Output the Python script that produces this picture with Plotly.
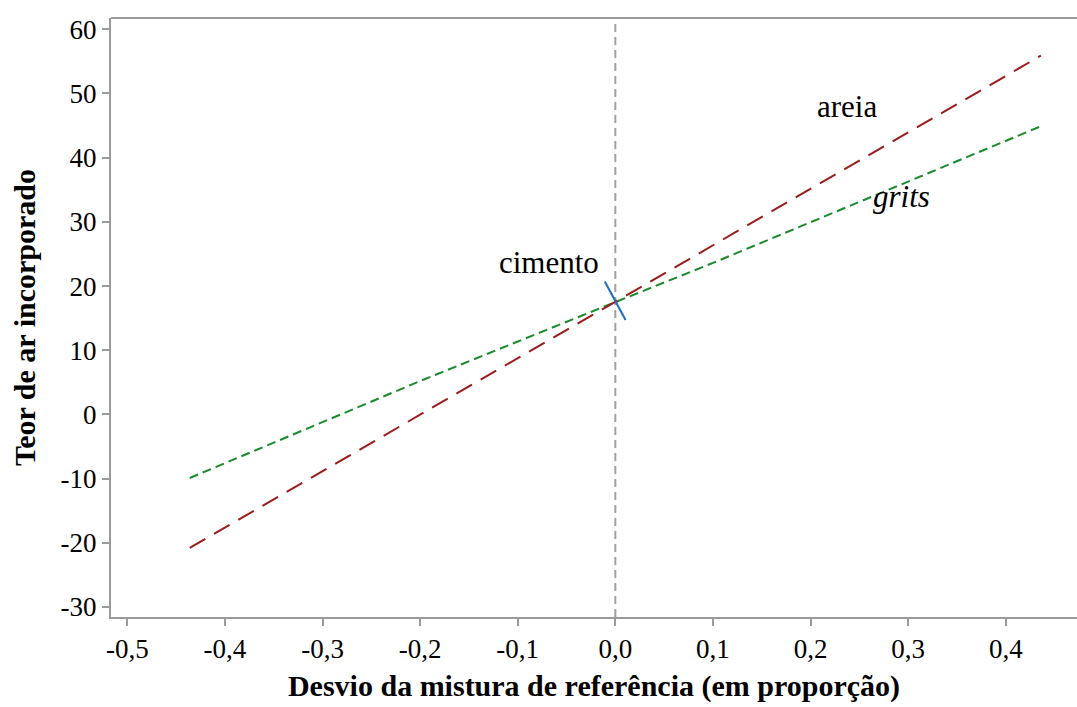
import plotly.graph_objects as go

# Deviation from the reference mix (proportion) and air content for each component
x_areia = [-0.436, 0.0, 0.436]
y_areia = [-20.8, 17.5, 55.9]

x_grits = [-0.436, -0.2, 0.0, 0.1, 0.436]
y_grits = [-9.9, 5.2, 17.5, 23.6, 44.9]

x_cimento = [-0.0108, 0.0105]
y_cimento = [20.7, 14.7]

x_ticks = [-0.5, -0.4, -0.3, -0.2, -0.1, 0.0, 0.1, 0.2, 0.3, 0.4]
x_tick_labels = ["-0,5", "-0,4", "-0,3", "-0,2", "-0,1", "0,0", "0,1", "0,2", "0,3", "0,4"]
y_ticks = [-30, -20, -10, 0, 10, 20, 30, 40, 50, 60]
y_tick_labels = ["-30", "-20", "-10", "0", "10", "20", "30", "40", "50", "60"]

SERIF = "Liberation Serif"
AXIS_GREY = "#9a9a9a"

fig = go.Figure()

fig.add_trace(go.Scatter(
    x=x_grits, y=y_grits, mode="lines",
    line=dict(color="#1a8a2c", width=2, dash="9px,5px"),
    showlegend=False, hoverinfo="skip"))
fig.add_trace(go.Scatter(
    x=x_areia, y=y_areia, mode="lines",
    line=dict(color="#9c1c1c", width=2, dash="18px,10px"),
    showlegend=False, hoverinfo="skip"))
fig.add_trace(go.Scatter(
    x=x_cimento, y=y_cimento, mode="lines",
    line=dict(color="#1f6cc0", width=2),
    showlegend=False, hoverinfo="skip"))

# reference line at zero deviation
fig.add_shape(type="line", xref="x", yref="paper", x0=0, x1=0, y0=0, y1=1,
              line=dict(color="#a0a0a0", width=2, dash="8px,5px"), layer="below")
# top frame line
fig.add_shape(type="line", xref="paper", yref="paper", x0=0, x1=1, y0=1, y1=1,
              line=dict(color=AXIS_GREY, width=2))

label_font = dict(family=SERIF, size=31, color="#000000")
fig.add_annotation(x=-0.068, y=23.7, text="cimento", showarrow=False, font=label_font)
fig.add_annotation(x=0.237, y=47.9, text="areia", showarrow=False, font=label_font)
fig.add_annotation(x=0.2935, y=34.0, text="<i>grits</i>", showarrow=False, font=label_font)

fig.update_layout(
    width=1077, height=707,
    margin=dict(l=111, r=0, t=18, b=90),
    paper_bgcolor="white", plot_bgcolor="white",
    xaxis=dict(
        range=[-0.5167, 0.473],
        tickvals=x_ticks, ticktext=x_tick_labels,
        tickfont=dict(family=SERIF, size=27, color="#000000"),
        ticks="outside", ticklen=7, tickwidth=2, tickcolor=AXIS_GREY,
        showline=True, linecolor=AXIS_GREY, linewidth=2,
        showgrid=False, zeroline=False,
        title=dict(text="<b>Desvio da mistura de referência (em proporção)</b>",
                   font=dict(family=SERIF, size=30, color="#000000"), standoff=12),
    ),
    yaxis=dict(
        range=[-31.56, 61.76],
        tickvals=y_ticks, ticktext=y_tick_labels,
        tickfont=dict(family=SERIF, size=27, color="#000000"),
        ticks="outside", ticklen=7, tickwidth=2, tickcolor=AXIS_GREY,
        showline=True, linecolor=AXIS_GREY, linewidth=2,
        showgrid=False, zeroline=False,
        title=dict(text="<b>Teor de ar incorporado</b>",
                   font=dict(family=SERIF, size=30, color="#000000"), standoff=16),
    ),
)

fig.write_html("out.html")
